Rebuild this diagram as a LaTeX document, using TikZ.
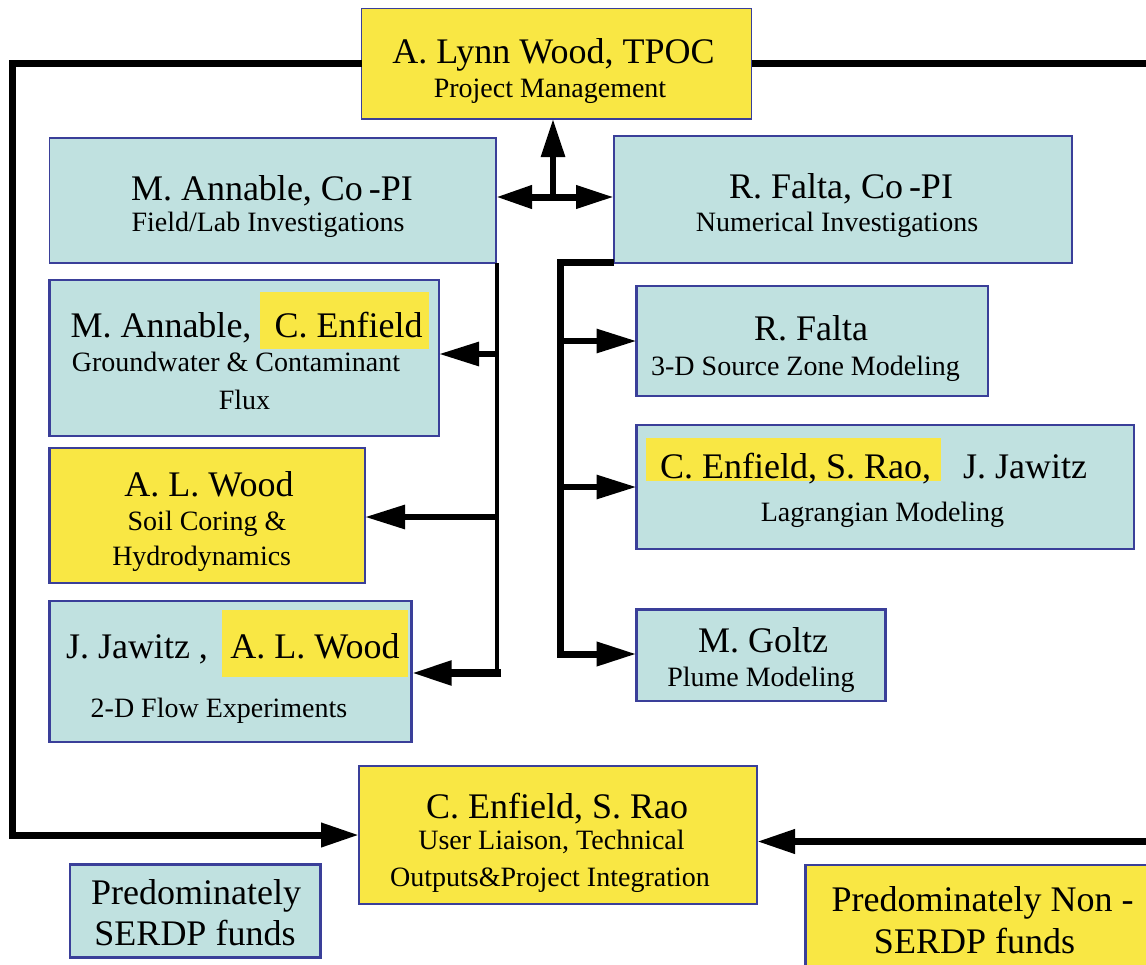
\documentclass[tikz,border=0pt]{standalone}
\usepackage{fontspec}
\setmainfont{Liberation Serif}
\usetikzlibrary{arrows.meta}
\definecolor{yel}{RGB}{249,231,68}
\definecolor{cya}{RGB}{192,225,224}
\definecolor{bdr}{RGB}{58,63,153}
\begin{document}
\begin{tikzpicture}[x=1pt,y=-1pt,
  box/.style={draw=bdr, line width=1.5pt, inner sep=0pt, outer sep=0pt},
  boxthick/.style={box, line width=2.6pt},
  ybox/.style={fill=yel},
  cbox/.style={fill=cya},
  hl/.style={fill=yel, inner sep=0pt, outer sep=0pt},
  tA/.style={font=\fontsize{36}{40}\selectfont, inner sep=0pt, anchor=base},
  tB/.style={font=\fontsize{28}{32}\selectfont, inner sep=0pt, anchor=base},
  conn/.style={line width=7pt, line join=miter},
  tip/.style={-{Triangle[length=38pt,width=23pt]}},
]
\useasboundingbox (0,0) rectangle (1146,964);
\fill[white] (0,0) rectangle (1146,964);

% ---------- boxes ----------
\node[box,ybox, minimum width=390pt, minimum height=110.5pt] (top) at (556.5,63.75) {};
\node[box,cbox, minimum width=446.5pt, minimum height=125pt] (cop1) at (272.75,200.5) {};
\node[box,cbox, line width=2pt, minimum width=458pt, minimum height=127pt] (cop2) at (843,199) {};
\node[boxthick,cbox, minimum width=389.5pt, minimum height=156pt] (ae) at (244.25,358) {};
\node[boxthick,ybox, minimum width=315.5pt, minimum height=135pt] (alw) at (207.25,515.5) {};
\node[boxthick,cbox, minimum width=362pt, minimum height=141pt] (jw) at (230.5,671.5) {};
\node[boxthick,cbox, minimum width=351.5pt, minimum height=110pt] (rf) at (812.25,341) {};
\node[boxthick,cbox, minimum width=497.5pt, minimum height=124pt] (ce) at (885.25,487) {};
\node[boxthick,cbox, minimum width=249pt, minimum height=91.5pt] (mg) at (761,655.25) {};
\node[boxthick,ybox, minimum width=398pt, minimum height=138pt] (bot) at (558,835) {};
\node[boxthick,cbox, minimum width=250.5pt, minimum height=93pt] (leg1) at (195.25,911) {};
\node[boxthick,ybox, minimum width=354.5pt, minimum height=125pt] (leg2) at (982.75,927.5) {};

% ---------- highlights ----------
\node[hl, minimum width=169pt, minimum height=57pt] (hl1) at (344.5,320.5) {};
\node[hl, minimum width=186pt, minimum height=67pt] (hl2) at (315,643.5) {};
\node[hl, minimum width=295.5pt, minimum height=43pt] (hl3) at (793.25,459.5) {};

% ---------- texts ----------
\node[tA] (t1) at (553.5,63) {A. Lynn Wood, TPOC};
\node[tB] (t2) at (550,97) {Project Management};
\node[tA] (t3) at (272,200.7) {M. Annable, Co\,-PI};
\node[tB] (t4) at (268,231.7) {Field/Lab Investigations};
\node[tA] (t5) at (841,198) {R. Falta, Co\,-PI};
\node[tB] (t6) at (837,231.5) {Numerical Investigations};
\node[tA] (t7) at (161,337) {M. Annable,};
\node[tA] (t8) at (348.5,337) {C. Enfield};
\node[tB] (t9) at (236,371.7) {Groundwater \& Contaminant};
\node[tB] (t10) at (244.5,409) {Flux};
\node[tA] (t11) at (209,496.7) {A. L. Wood};
\node[tB] (t12) at (207,530.7) {Soil Coring \&};
\node[tB] (t13) at (201.7,565) {Hydrodynamics};
\node[tA] (t14) at (137,658) {J. Jawitz ,};
\node[tA] (t15) at (315,658) {A. L. Wood};
\node[tB] (t16) at (219,717) {2-D Flow Experiments};
\node[tA] (t17) at (811,340.7) {R. Falta};
\node[tB] (t18) at (805.5,375) {3-D Source Zone Modeling};
\node[tA] (t19) at (795.5,478) {C. Enfield, S. Rao,};
\node[tA] (t20) at (1025,478) {J. Jawitz};
\node[tB] (t21) at (882.5,521.7) {Lagrangian Modeling};
\node[tA] (t22) at (763,652.7) {M. Goltz};
\node[tB] (t23) at (761,686.7) {Plume Modeling};
\node[tA] (t24) at (557,818) {C. Enfield, S. Rao};
\node[tB] (t25) at (551.5,849) {User Liaison, Technical};
\node[tB] (t26) at (550,886.5) {Outputs\&Project Integration};
\node[tA] (t27) at (196,904) {Predominately};
\node[tA] (t28) at (195,945) {SERDP funds};
\node[tA] (t29) at (982.5,911.7) {Predominately Non -};
\node[tA] (t30) at (974.5,953) {SERDP funds};

% ---------- connector coordinates ----------
\coordinate (jn) at (553,197);
\coordinate (lv1) at (497,263);
\coordinate (lv2) at (497,677);
\coordinate (b1) at (498,354);
\coordinate (b2) at (498,517);
\coordinate (b3) at (501,673);
\coordinate (rv1) at (560,262.5);
\coordinate (rv2) at (560,654);
\coordinate (rc1) at (1165,63.75);
\coordinate (rc2) at (1165,841.5);

% ---------- connectors ----------
% outer loop
\draw[conn,tip] (top.west) -- ++(-349,0) |- (bot.west);
\draw[conn,tip] (top.east) -- (rc1) -- (rc2) -- ([yshift=-6.5pt]bot.east);
% junction under top box
\draw[line width=7pt,{Triangle[length=36pt,width=22pt]}-{Triangle[length=38pt,width=22pt]}]
  (cop1.east |- jn) -- (cop2.west |- jn);
\draw[line width=6pt,-{Triangle[length=38pt,width=23pt]}] (jn) -- (jn |- top.south);
% left tree
\draw[line width=4pt] (lv1) -- (lv2);
\draw[line width=6pt,-{Triangle[length=40pt,width=23pt]}] (b1) -- (b1 -| ae.east);
\draw[line width=6pt,-{Triangle[length=40pt,width=23pt]}] (b2) -- (b2 -| alw.east);
\draw[line width=8pt,-{Triangle[length=40pt,width=23pt]}] (b3) -- (b3 -| jw.east);
% right tree
\draw[conn,-{Triangle[length=40pt,width=23pt]}] (cop2.south west) -- (rv1) -- (rv2) -- (rv2 -| mg.west);
\draw[line width=6pt,-{Triangle[length=40pt,width=23pt]}] (rf.west -| rv1) -- (rf.west);
\draw[line width=6pt,-{Triangle[length=40pt,width=23pt]}] (ce.west -| rv1) -- (ce.west);
\end{tikzpicture}
\end{document}
